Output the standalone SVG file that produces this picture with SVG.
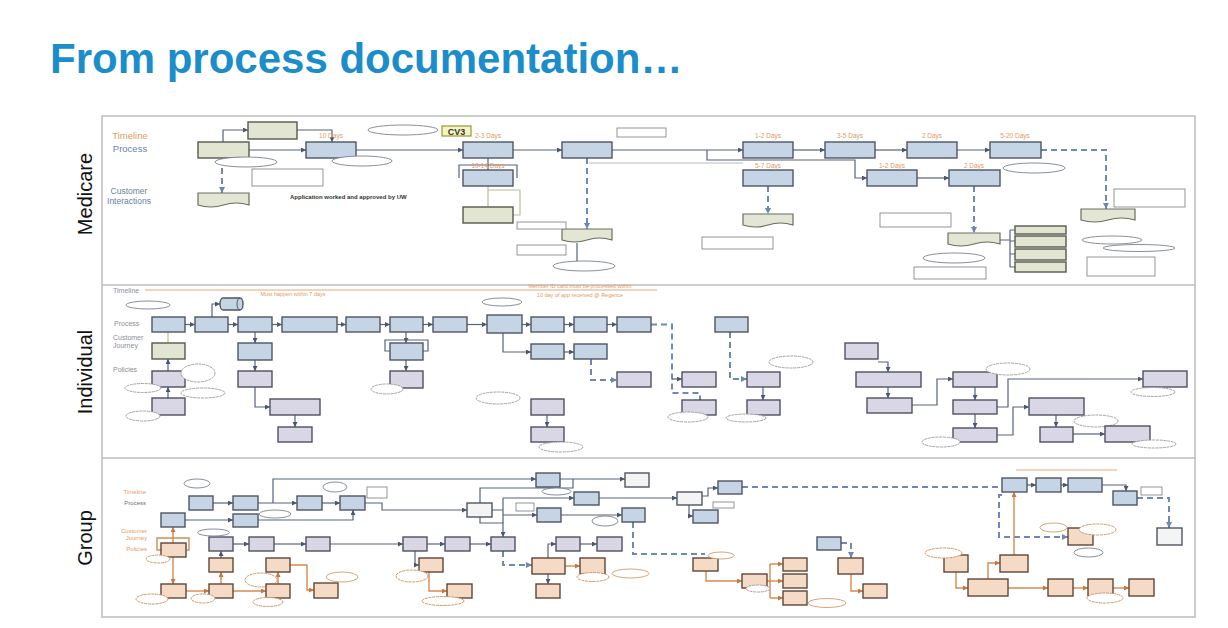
<svg xmlns="http://www.w3.org/2000/svg" width="1228" height="628" viewBox="0 0 1228 628">
<defs>
<marker id="a" viewBox="0 0 6 6" refX="6" refY="3" markerWidth="5" markerHeight="5" markerUnits="userSpaceOnUse" orient="auto"><path d="M0 0L6 3L0 6z" fill="#4b5670"/></marker>
<marker id="ao" viewBox="0 0 6 6" refX="6" refY="3" markerWidth="5" markerHeight="5" markerUnits="userSpaceOnUse" orient="auto"><path d="M0 0L6 3L0 6z" fill="#c9743a"/></marker>
<marker id="ad" viewBox="0 0 6 6" refX="6" refY="3" markerWidth="6" markerHeight="6" markerUnits="userSpaceOnUse" orient="auto"><path d="M0 0L6 3L0 6z" fill="#6f86b5"/></marker>
<style>
.bb{fill:#c5d5e6;stroke:#4e5561;stroke-width:1.4}
.gb{fill:#e2e5d2;stroke:#555a4c;stroke-width:1.4}
.pb{fill:#d9d7e6;stroke:#4e5060;stroke-width:1.4}
.ob{fill:#f5dbc6;stroke:#5e4638;stroke-width:1.4}
.wb{fill:#f4f4f4;stroke:#4e5561;stroke-width:1.4}
.doc{fill:#e3e6d4;stroke:#6a6e60;stroke-width:1.2}
.nt{fill:#fff;stroke:#8a8a8a;stroke-width:.9}
.el{fill:#fff;stroke:#7a8290;stroke-width:.9}
.eo{fill:#fff;stroke:#d49a6a;stroke-width:.9}
.cl{fill:#fff;stroke:#9a9a9a;stroke-width:.9;stroke-dasharray:3 .7}
.clo{fill:#fff;stroke:#cf8c5a;stroke-width:.9;stroke-dasharray:3 .7}
.cv{fill:#f5f5c4;stroke:#9a9a30;stroke-width:1.2}
.c{fill:none;stroke:#56627e;stroke-width:1.2;marker-end:url(#a)}
.cn{fill:none;stroke:#56627e;stroke-width:1.2}
.cf{fill:none;stroke:#b5bac6;stroke-width:1}
.cd{fill:none;stroke:#7088b8;stroke-width:2;stroke-dasharray:6 4;marker-end:url(#ad)}
.cdn{fill:none;stroke:#7088b8;stroke-width:2;stroke-dasharray:6 4}
.co{fill:none;stroke:#d58a50;stroke-width:1.4;marker-end:url(#ao)}
.con{fill:none;stroke:#d58a50;stroke-width:1.4}
.lo{fill:none;stroke:#b9bd9b;stroke-width:1.2}
.tln{fill:none;stroke:#e6a878;stroke-width:1.2}
.fr{fill:none;stroke:#bdbdbd;stroke-width:1.5}
text{font-family:"Liberation Sans",Arial,sans-serif}
.ti{font-size:42px;font-weight:bold;fill:#1b8dcb}
.sw{font-size:20px;fill:#111}
.lm{font-size:9.5px;text-anchor:middle}
.ls{font-size:8.5px;text-anchor:middle}
.li{font-size:7px;fill:#8a8f99}
.lg{font-size:6px;text-anchor:end}
.or{fill:#e39a64}
.bl{fill:#6b7fa6}
.dy{font-size:6.5px;fill:#e39a64;text-anchor:middle}
.hd{font-size:6px;font-weight:bold;fill:#333}
.tlt{font-size:5.5px;fill:#e39a64;text-anchor:middle}
</style>
</defs>

<rect width="1228" height="628" fill="#fff"/>
<text class="ti" x="50" y="73">From process documentation…</text>

<g id="frame">
<rect class="fr" x="102" y="116" width="1093" height="501"/>
<line class="fr" x1="102" y1="285" x2="1195" y2="285"/>
<line class="fr" x1="102" y1="458" x2="1195" y2="458"/>
<text class="sw" transform="translate(92,194) rotate(-90)" text-anchor="middle">Medicare</text>
<text class="sw" transform="translate(92,372) rotate(-90)" text-anchor="middle">Individual</text>
<text class="sw" transform="translate(92,538) rotate(-90)" text-anchor="middle">Group</text>
</g>

<g id="lane-labels">
<text class="lm or" x="130" y="139">Timeline</text>
<text class="lm bl" x="130" y="152">Process</text>
<text class="ls bl" x="129" y="194">Customer</text>
<text class="ls bl" x="129" y="204">Interactions</text>
<text class="li" x="113" y="293">Timeline</text>
<text class="li" x="114" y="326">Process</text>
<text class="li" x="113" y="340">Customer</text>
<text class="li" x="113" y="348">Journey</text>
<text class="li" x="113" y="372">Policies</text>
<text class="lg or" x="146" y="494">Timeline</text>
<text class="lg" x="146" y="505" fill="#6b7080">Process</text>
<text class="lg or" x="147" y="533">Customer</text>
<text class="lg or" x="147" y="540">Journey</text>
<text class="lg or" x="147" y="551">Policies</text>
</g>

<g id="timelines">
<line class="tln" x1="145" y1="290" x2="657" y2="290"/>
<text class="tlt" x="293" y="296">Must happen within 7 days</text>
<text class="tlt" x="580" y="288">Member ID card must be processed within</text>
<text class="tlt" x="580" y="297">10 day of app received @ Regence</text>
<line class="tln" x1="1016" y1="470" x2="1117" y2="470"/>
</g>

<g id="connectors">
<path class="c" d="M223 142V130H248"/>
<path class="c" d="M297 130H332V142"/>
<path class="c" d="M249 150H306"/>
<path class="cd" d="M222 158V193"/>
<path class="c" d="M356 150H463"/>
<path class="cn" d="M459 178V165H517V178M488 158V170"/>
<path class="lo" d="M488 186V207M488 190H520V215H513"/>
<path class="c" d="M513 150H562"/>
<path class="cd" d="M587 158V229"/>
<path class="c" d="M612 150H743"/>
<path class="c" d="M707 150V160H855V178H867"/>
<path class="cf" d="M589 163H743"/>
<path class="cd" d="M768 186V214"/>
<path class="c" d="M793 150H825"/>
<path class="c" d="M875 150H907"/>
<path class="c" d="M957 150H990"/>
<path class="cd" d="M1041 150H1106V209"/>
<path class="c" d="M917 178H949"/>
<path class="cd" d="M974 186V233"/>
<path class="cn" d="M1000 240H1010M1010 230V267M1010 230H1015M1010 241H1015M1010 254H1015M1010 267H1015"/>
<path class="cn" d="M577 243V262"/>
<path class="c" d="M185 324.5H195"/>
<path class="c" d="M228 324.5H238"/>
<path class="c" d="M212 317V304H220"/>
<path class="c" d="M272 324.5H282"/>
<path class="c" d="M337 324.5H346"/>
<path class="c" d="M380 324.5H390"/>
<path class="c" d="M423 324.5H433"/>
<path class="c" d="M467 324.5H487"/>
<path class="c" d="M522 324.5H531"/>
<path class="c" d="M564 324.5H574"/>
<path class="c" d="M607 324.5H617"/>
<path class="cdn" d="M651 324.5H672V393H700V400"/>
<path class="c" d="M672 379H682"/>
<path class="cd" d="M730 332V379H747"/>
<path class="c" d="M503 333V352H531"/>
<path class="c" d="M564 352H574"/>
<path class="cd" d="M591 359V380H617"/>
<path class="c" d="M763 387V400"/>
<path class="c" d="M547 415V427"/>
<path class="lo" d="M168 343V332"/>
<path class="c" d="M168 371V359"/>
<path class="c" d="M168 398V387"/>
<path class="c" d="M255 332V343"/>
<path class="c" d="M255 360V371"/>
<path class="c" d="M255 387V407H270"/>
<path class="c" d="M295 415V427"/>
<path class="c" d="M406 332V343"/>
<path class="cn" d="M390 351H385V340H428V351H423"/>
<path class="c" d="M406 360V371"/>
<path class="c" d="M878 362H888V372"/>
<path class="c" d="M888 387V398"/>
<path class="c" d="M912 405H937V379H953"/>
<path class="c" d="M975 387V400"/>
<path class="c" d="M975 414V428"/>
<path class="c" d="M997 407H1008V379H1143"/>
<path class="c" d="M997 435H1013V407H1029"/>
<path class="c" d="M1056 415V427"/>
<path class="c" d="M1073 434H1105"/>
<path class="c" d="M213 503H233"/>
<path class="c" d="M258 503H297"/>
<path class="c" d="M322 503H340"/>
<path class="c" d="M273 503V479H536"/>
<path class="c" d="M365 503H382V510H467"/>
<path class="c" d="M185 520H233"/>
<path class="c" d="M258 520H353V510"/>
<path class="cn" d="M480 503V488H573V479"/>
<path class="cn" d="M492 510H503M503 498V523"/>
<path class="c" d="M503 498H574"/>
<path class="c" d="M503 515H537"/>
<path class="c" d="M599 498H677"/>
<path class="c" d="M560 479H625"/>
<path class="c" d="M561 515H622"/>
<path class="cdn" d="M633 522V554H705"/>
<path class="c" d="M702 496H708V488H718"/>
<path class="c" d="M689 505V516H693"/>
<path class="cdn" d="M742 487H1002"/>
<path class="c" d="M1027 485H1036"/>
<path class="c" d="M1061 485H1068"/>
<path class="c" d="M1102 485H1126V491"/>
<path class="cd" d="M1137 498H1169V528"/>
<path class="cd" d="M1002 495H999V537H1068"/>
<path class="c" d="M480 517V523H503V537"/>
<path class="c" d="M470 544H491"/>
<path class="c" d="M427 544H445"/>
<path class="c" d="M330 544H403"/>
<path class="c" d="M274 544H306"/>
<path class="c" d="M233 544H249"/>
<path class="cd" d="M503 551V565H532"/>
<path class="c" d="M548 558V544H556"/>
<path class="c" d="M580 544H597"/>
<path class="co" d="M565 566H580"/>
<path class="c" d="M548 574V584"/>
<path class="cd" d="M841 543H851V558"/>
<path class="co" d="M851 574V591H863"/>
<path class="co" d="M706 571V581H742"/>
<path class="con" d="M767 581H770M770 564V598"/>
<path class="co" d="M770 564H783"/>
<path class="co" d="M770 581H783"/>
<path class="co" d="M770 598H783"/>
<path class="co" d="M956 572V588H968"/>
<path class="co" d="M988 579V563H1000"/>
<path class="co" d="M1014 555V492"/>
<path class="co" d="M1008 588H1048"/>
<path class="co" d="M1073 588H1088"/>
<path class="co" d="M1113 588H1129"/>
<path class="co" d="M173 543V527"/>
<path class="con" d="M161 550H157V538H189V550H186"/>
<path class="co" d="M173 557V584"/>
<path class="co" d="M186 591H209"/>
<path class="co" d="M221 584V572"/>
<path class="c" d="M221 558V551"/>
<path class="co" d="M233 591H266"/>
<path class="co" d="M278 584V572"/>
<path class="co" d="M290 565H307V590H314"/>
<path class="c" d="M415 551V565H419"/>
<path class="co" d="M429 572V591H447"/>
</g>

<g id="m-a"><rect class="gb" x="198" y="142" width="51" height="16"/></g>
<g id="m-b"><rect class="gb" x="248" y="122" width="49" height="17"/></g>
<g id="m-e1"><ellipse class="el" cx="246" cy="162" rx="31" ry="5"/></g>
<g id="m-n1"><rect class="nt" x="252" y="169" width="71" height="17"/></g>
<g id="m-d1"><path class="doc" d="M198 193h51v12q-12.75 -4 -25.5 0t-25.5 0z"/></g>
<g id="m-c"><rect class="bb" x="306" y="142" width="50" height="16"/><text class="dy" x="331" y="138">10 Days</text></g>
<g id="m-e2"><ellipse class="el" cx="403" cy="130" rx="35" ry="5"/></g>
<g id="m-e3"><ellipse class="el" cx="362" cy="161" rx="30" ry="5"/></g>
<g id="m-txt"><text class="hd" x="290" y="199">Application worked and approved by UW</text></g>
<g id="m-cv3"><rect class="cv" x="442" y="126" width="29" height="10"/><text x="456.5" y="134.5" font-size="9" font-weight="bold" fill="#333" text-anchor="middle">CV3</text></g>
<g id="m-f"><rect class="bb" x="463" y="142" width="50" height="16"/><text class="dy" x="488" y="138">2-3 Days</text></g>
<g id="m-g"><rect class="bb" x="463" y="170" width="50" height="16"/><text class="dy" x="488" y="168">10-14 Days</text></g>
<g id="m-h"><rect class="gb" x="463" y="207" width="50" height="16"/></g>
<g id="m-i"><rect class="bb" x="562" y="142" width="50" height="16"/></g>
<g id="m-n2"><rect class="nt" x="617" y="128" width="49" height="9"/></g>
<g id="m-d2"><path class="doc" d="M562 229h50v11q-12.5 -4 -25 0t-25 0z"/></g>
<g id="m-n3"><rect class="nt" x="517" y="222" width="49" height="7"/></g>
<g id="m-n4"><rect class="nt" x="517" y="245" width="49" height="10"/></g>
<g id="m-e4"><ellipse class="el" cx="584" cy="266" rx="31" ry="5"/></g>
<g id="m-j"><rect class="bb" x="743" y="142" width="50" height="16"/><text class="dy" x="768" y="138">1-2 Days</text></g>
<g id="m-k"><rect class="bb" x="743" y="170" width="50" height="16"/><text class="dy" x="768" y="168">5-7 Days</text></g>
<g id="m-d3"><path class="doc" d="M743 214h50v11q-12.5 -4 -25 0t-25 0z"/></g>
<g id="m-n5"><rect class="nt" x="702" y="237" width="71" height="12"/></g>
<g id="m-l"><rect class="bb" x="825" y="142" width="50" height="16"/><text class="dy" x="850" y="138">3-5 Days</text></g>
<g id="m-m"><rect class="bb" x="907" y="142" width="50" height="16"/><text class="dy" x="932" y="138">2 Days</text></g>
<g id="m-n"><rect class="bb" x="990" y="142" width="51" height="16"/><text class="dy" x="1015" y="138">5-20 Days</text></g>
<g id="m-e5"><ellipse class="el" cx="1034" cy="168" rx="31" ry="5"/></g>
<g id="m-d4"><path class="doc" d="M1081 209h54v11q-13.5 -4 -27 0t-27 0z"/></g>
<g id="m-n6"><rect class="nt" x="1114" y="189" width="71" height="18"/></g>
<g id="m-p"><rect class="bb" x="867" y="170" width="50" height="16"/><text class="dy" x="892" y="168">1-2 Days</text></g>
<g id="m-q"><rect class="bb" x="949" y="170" width="51" height="16"/><text class="dy" x="974" y="168">2 Days</text></g>
<g id="m-d5"><path class="doc" d="M948 233h52v11q-13 -4 -26 0t-26 0z"/></g>
<g id="m-n7"><rect class="nt" x="880" y="213" width="71" height="14"/></g>
<g id="m-e6"><ellipse class="el" cx="954" cy="258" rx="31" ry="5"/></g>
<g id="m-n8"><rect class="nt" x="914" y="267" width="72" height="12"/></g>
<g id="m-s1"><rect class="gb" x="1015" y="226" width="51" height="8"/></g>
<g id="m-s2"><rect class="gb" x="1015" y="236" width="51" height="11"/></g>
<g id="m-s3"><rect class="gb" x="1015" y="249" width="51" height="11"/></g>
<g id="m-s4"><rect class="gb" x="1015" y="262" width="51" height="10"/></g>
<g id="m-e7"><ellipse class="el" cx="1112" cy="240" rx="30" ry="4"/></g>
<g id="m-e8"><ellipse class="el" cx="1139" cy="248" rx="36" ry="3.5"/></g>
<g id="m-n9"><rect class="nt" x="1087" y="257" width="68" height="19"/></g>

<g id="i1"><rect class="bb" x="152" y="317" width="33" height="15"/></g>
<g id="i-e1"><ellipse class="el" cx="148" cy="305" rx="22" ry="4"/></g>
<g id="i2"><rect class="bb" x="195" y="317" width="33" height="15"/></g>
<g id="i-cyl"><path class="bb" d="M223 298h17a3 6 0 0 1 0 12h-17a3 6 0 0 1 0 -12z"/><path fill="none" stroke="#4e5561" stroke-width="1" d="M240 298a3 6 0 0 0 0 12"/></g>
<g id="i3"><rect class="bb" x="238" y="317" width="34" height="15"/></g>
<g id="i4"><rect class="bb" x="282" y="317" width="55" height="15"/></g>
<g id="i5"><rect class="bb" x="346" y="317" width="34" height="15"/></g>
<g id="i6"><rect class="bb" x="390" y="317" width="33" height="15"/></g>
<g id="i7"><rect class="bb" x="433" y="317" width="34" height="15"/></g>
<g id="i8"><rect class="bb" x="487" y="315" width="35" height="18"/></g>
<g id="i-e2"><ellipse class="el" cx="502" cy="302" rx="20" ry="4"/></g>
<g id="i9"><rect class="bb" x="531" y="317" width="33" height="15"/></g>
<g id="i10"><rect class="bb" x="574" y="317" width="33" height="15"/></g>
<g id="i11"><rect class="bb" x="617" y="317" width="34" height="15"/></g>
<g id="i12"><rect class="bb" x="715" y="317" width="33" height="15"/></g>
<g id="i13"><rect class="bb" x="531" y="344" width="33" height="15"/></g>
<g id="i14"><rect class="bb" x="574" y="344" width="33" height="15"/></g>
<g id="i15"><rect class="pb" x="617" y="372" width="34" height="15"/></g>
<g id="i16"><rect class="pb" x="682" y="372" width="34" height="15"/></g>
<g id="i17"><rect class="pb" x="682" y="400" width="34" height="15"/></g>
<g id="i-c1"><ellipse class="cl" cx="688" cy="417" rx="20" ry="5"/></g>
<g id="i18"><rect class="pb" x="747" y="372" width="33" height="15"/></g>
<g id="i-c2"><ellipse class="cl" cx="791" cy="362" rx="22" ry="6"/></g>
<g id="i19"><rect class="pb" x="747" y="400" width="33" height="15"/></g>
<g id="i-c3"><ellipse class="cl" cx="746" cy="418" rx="20" ry="4"/></g>
<g id="i20"><rect class="pb" x="531" y="399" width="33" height="16"/></g>
<g id="i-c4"><ellipse class="cl" cx="498" cy="398" rx="22" ry="6"/></g>
<g id="i21"><rect class="pb" x="531" y="427" width="33" height="15"/></g>
<g id="i-c5"><ellipse class="cl" cx="561" cy="447" rx="22" ry="5"/></g>
<g id="i22"><rect class="gb" x="152" y="343" width="33" height="16"/></g>
<g id="i23"><rect class="pb" x="152" y="371" width="33" height="16"/></g>
<g id="i-c6"><ellipse class="cl" cx="143" cy="388" rx="18" ry="4.5"/></g>
<g id="i-c7"><ellipse class="cl" cx="198" cy="373" rx="17" ry="9"/></g>
<g id="i-c8"><ellipse class="cl" cx="203" cy="393" rx="22" ry="5"/></g>
<g id="i24"><rect class="pb" x="152" y="398" width="33" height="17"/></g>
<g id="i-c9"><ellipse class="cl" cx="143" cy="416" rx="17" ry="5"/></g>
<g id="i25"><rect class="bb" x="238" y="343" width="34" height="17"/></g>
<g id="i26"><rect class="pb" x="238" y="371" width="34" height="16"/></g>
<g id="i27"><rect class="pb" x="270" y="399" width="50" height="16"/></g>
<g id="i28"><rect class="pb" x="278" y="427" width="34" height="15"/></g>
<g id="i29"><rect class="bb" x="390" y="343" width="33" height="17"/></g>
<g id="i30"><rect class="pb" x="390" y="371" width="33" height="17"/></g>
<g id="i-c10"><ellipse class="cl" cx="387" cy="389" rx="16" ry="5"/></g>
<g id="i31"><rect class="pb" x="845" y="343" width="33" height="16"/></g>
<g id="i32"><rect class="pb" x="856" y="372" width="65" height="15"/></g>
<g id="i33"><rect class="pb" x="867" y="398" width="45" height="15"/></g>
<g id="i34"><rect class="pb" x="953" y="372" width="44" height="15"/></g>
<g id="i-c11"><ellipse class="cl" cx="1008" cy="369" rx="22" ry="6"/></g>
<g id="i35"><rect class="pb" x="953" y="400" width="44" height="14"/></g>
<g id="i36"><rect class="pb" x="953" y="428" width="44" height="14"/></g>
<g id="i-c12"><ellipse class="cl" cx="941" cy="442" rx="19" ry="5"/></g>
<g id="i37"><rect class="pb" x="1029" y="398" width="55" height="17"/></g>
<g id="i-c13"><ellipse class="cl" cx="1096" cy="421" rx="22" ry="6"/></g>
<g id="i38"><rect class="pb" x="1040" y="427" width="33" height="15"/></g>
<g id="i39"><rect class="pb" x="1105" y="426" width="45" height="16"/></g>
<g id="i-c14"><ellipse class="cl" cx="1154" cy="444" rx="22" ry="4"/></g>
<g id="i40"><rect class="pb" x="1143" y="371" width="44" height="16"/></g>
<g id="i-c15"><ellipse class="cl" cx="1153" cy="392" rx="22" ry="4.5"/></g>

<g id="g1"><rect class="bb" x="189" y="496" width="24" height="14"/></g>
<g id="g-e1"><ellipse class="el" cx="197" cy="483.5" rx="13" ry="4.5"/></g>
<g id="g2"><rect class="bb" x="233" y="496" width="25" height="14"/></g>
<g id="g3"><rect class="bb" x="297" y="496" width="25" height="14"/></g>
<g id="g4"><rect class="bb" x="340" y="496" width="25" height="14"/></g>
<g id="g-e2"><ellipse class="el" cx="335" cy="487" rx="12" ry="5"/></g>
<g id="g-n1"><rect class="nt" x="367" y="487" width="20" height="11"/></g>
<g id="g5"><rect class="bb" x="161" y="513" width="24" height="14"/></g>
<g id="g6"><rect class="bb" x="233" y="514" width="25" height="13"/></g>
<g id="g-e3"><ellipse class="el" cx="275" cy="514" rx="16" ry="4"/></g>
<g id="o1"><rect class="ob" x="161" y="543" width="25" height="14"/></g>
<g id="o-c1"><ellipse class="clo" cx="158" cy="559" rx="12" ry="4"/></g>
<g id="o2"><rect class="ob" x="161" y="584" width="25" height="14"/></g>
<g id="o-c2"><ellipse class="clo" cx="152" cy="599" rx="16" ry="5"/></g>
<g id="o3"><rect class="ob" x="209" y="584" width="24" height="14"/></g>
<g id="o-c3"><ellipse class="clo" cx="203" cy="598.5" rx="12" ry="4.5"/></g>
<g id="o4"><rect class="ob" x="209" y="558" width="24" height="14"/></g>
<g id="p1"><rect class="pb" x="209" y="537" width="24" height="14"/></g>
<g id="g-e4"><ellipse class="el" cx="213.5" cy="532.5" rx="16" ry="3.5"/></g>
<g id="p2"><rect class="pb" x="249" y="537" width="25" height="14"/></g>
<g id="p3"><rect class="pb" x="306" y="537" width="24" height="14"/></g>
<g id="p4"><rect class="pb" x="403" y="537" width="24" height="14"/></g>
<g id="p5"><rect class="pb" x="445" y="537" width="25" height="14"/></g>
<g id="o5"><rect class="ob" x="266" y="558" width="24" height="14"/></g>
<g id="o-c4"><ellipse class="clo" cx="261" cy="580" rx="16" ry="7"/></g>
<g id="o6"><rect class="ob" x="266" y="584" width="24" height="14"/></g>
<g id="o-c5"><ellipse class="clo" cx="268" cy="602" rx="15" ry="4.5"/></g>
<g id="o7"><rect class="ob" x="314" y="583" width="24" height="15"/></g>
<g id="o-c6"><ellipse class="eo" cx="342" cy="577" rx="16" ry="5"/></g>
<g id="o8"><rect class="ob" x="419" y="558" width="24" height="14"/></g>
<g id="o-c7"><ellipse class="clo" cx="412" cy="576" rx="16" ry="6"/></g>
<g id="o9"><rect class="ob" x="447" y="584" width="25" height="14"/></g>
<g id="o-c8"><ellipse class="clo" cx="443" cy="601" rx="21" ry="4.5"/></g>
<g id="z1"><rect class="wb" x="467" y="503" width="25" height="14"/></g>
<g id="z2"><rect class="bb" x="536" y="473" width="24" height="14"/></g>
<g id="z3"><rect class="wb" x="625" y="473" width="24" height="14"/></g>
<g id="g-e5"><ellipse class="el" cx="556.5" cy="491.5" rx="14.5" ry="3.5"/></g>
<g id="z4"><rect class="bb" x="574" y="492" width="25" height="13"/></g>
<g id="z5"><rect class="bb" x="537" y="508" width="24" height="14"/></g>
<g id="g-n2"><rect class="nt" x="516" y="503" width="18" height="8"/></g>
<g id="z6"><rect class="bb" x="622" y="508" width="23" height="14"/></g>
<g id="g-e6"><ellipse class="el" cx="605" cy="521" rx="13" ry="5"/></g>
<g id="z7"><rect class="wb" x="677" y="492" width="25" height="13"/></g>
<g id="z8"><rect class="bb" x="718" y="481" width="24" height="13"/></g>
<g id="z9"><rect class="bb" x="693" y="510" width="25" height="13"/></g>
<g id="g-n3"><rect class="nt" x="713" y="502" width="21" height="6"/></g>
<g id="p6"><rect class="pb" x="491" y="537" width="24" height="14"/></g>
<g id="o10"><rect class="ob" x="532" y="558" width="33" height="16"/></g>
<g id="p7"><rect class="pb" x="556" y="537" width="24" height="14"/></g>
<g id="p8"><rect class="pb" x="597" y="537" width="25" height="14"/></g>
<g id="o11"><rect class="ob" x="580" y="558" width="25" height="16"/></g>
<g id="o-c9"><ellipse class="clo" cx="593" cy="577" rx="16" ry="4.5"/></g>
<g id="o-e10"><ellipse class="eo" cx="630.5" cy="573.5" rx="18.5" ry="4.5"/></g>
<g id="o12"><rect class="ob" x="536" y="584" width="24" height="14"/></g>
<g id="o13"><rect class="ob" x="693" y="558" width="25" height="13"/></g>
<g id="o-e11"><ellipse class="eo" cx="721" cy="555.5" rx="13" ry="3.5"/></g>
<g id="o14"><rect class="ob" x="742" y="574" width="25" height="14"/></g>
<g id="o-c10"><ellipse class="cl" cx="758" cy="588.5" rx="12" ry="3.5"/></g>
<g id="o15"><rect class="ob" x="783" y="558" width="24" height="13"/></g>
<g id="o16"><rect class="ob" x="783" y="574" width="24" height="14"/></g>
<g id="o17"><rect class="ob" x="783" y="591" width="24" height="14"/></g>
<g id="o-e12"><ellipse class="eo" cx="827" cy="603" rx="19" ry="4.5"/></g>
<g id="b10"><rect class="bb" x="817" y="537" width="24" height="13"/></g>
<g id="o19"><rect class="ob" x="838" y="558" width="25" height="16"/></g>
<g id="o20"><rect class="ob" x="863" y="584" width="24" height="14"/></g>
<g id="w1"><rect class="bb" x="1002" y="478" width="25" height="14"/></g>
<g id="w2"><rect class="bb" x="1036" y="478" width="25" height="14"/></g>
<g id="w3"><rect class="bb" x="1068" y="478" width="34" height="14"/></g>
<g id="w4"><rect class="bb" x="1113" y="491" width="24" height="14"/></g>
<g id="g-n4"><rect class="nt" x="1141" y="487" width="21" height="8"/></g>
<g id="w5"><rect class="wb" x="1157" y="528" width="25" height="17"/></g>
<g id="o18"><rect class="ob" x="1068" y="528" width="25" height="17"/></g>
<g id="o-e13"><ellipse class="eo" cx="1053.5" cy="527.5" rx="13.5" ry="4.5"/></g>
<g id="o-c11"><ellipse class="clo" cx="1097.5" cy="529.5" rx="18.5" ry="5.5"/></g>
<g id="o-e14"><ellipse class="el" cx="1088.5" cy="552.5" rx="14.5" ry="4.5"/></g>
<g id="o21"><rect class="ob" x="944" y="555" width="24" height="17"/></g>
<g id="o-c12"><ellipse class="clo" cx="943.5" cy="553" rx="18.5" ry="5"/></g>
<g id="o22"><rect class="ob" x="968" y="579" width="40" height="17"/></g>
<g id="o23"><rect class="ob" x="1000" y="555" width="28" height="17"/></g>
<g id="o24"><rect class="ob" x="1048" y="579" width="25" height="17"/></g>
<g id="o25"><rect class="ob" x="1088" y="579" width="25" height="17"/></g>
<g id="o-c13"><ellipse class="clo" cx="1105" cy="598" rx="18" ry="5"/></g>
<g id="o26"><rect class="ob" x="1129" y="579" width="25" height="17"/></g>
</svg>
